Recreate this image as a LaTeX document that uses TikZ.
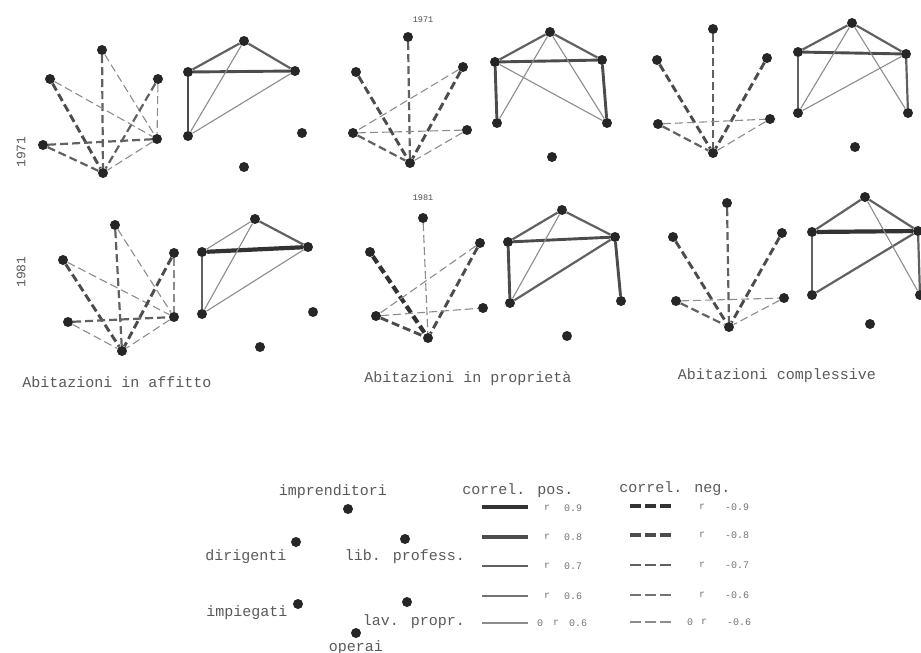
\documentclass[tikz,border=0pt]{standalone}
\usepackage{fontspec}
\newfontfamily\macchina{Liberation Mono}
\usepackage{tikz}

\tikzset{
  pallino/.style={circle,fill=black!85,inner sep=0pt,minimum size=10pt},
  pos5/.style={line width=1.1pt,black!45},
  pos6/.style={line width=1.8pt,black!55},
  pos7/.style={line width=2.2pt,black!62},
  pos8/.style={line width=2.9pt,black!70},
  pos9/.style={line width=4.2pt,black!80},
  neg5/.style={pos5,dash pattern=on 8pt off 4pt},
  neg6/.style={pos6,dash pattern=on 8pt off 4pt},
  neg7/.style={pos7,dash pattern=on 8pt off 4pt},
  neg8/.style={pos8,dash pattern=on 8pt off 4pt},
  neg9/.style={pos9,dash pattern=on 8pt off 4pt},
  testo/.style={font=\macchina\fontsize{15}{17}\selectfont,text=black!65,inner sep=0pt},
  piccolo/.style={font=\macchina\fontsize{10}{12}\selectfont,text=black!55,inner sep=0pt},
  anno/.style={font=\macchina\fontsize{8.5}{10}\selectfont,text=black!70,inner sep=0pt},
}

\newcommand{\gruppo}[7]{%
  \node[pallino] (#1im) at (#2) {};
  \node[pallino] (#1di) at (#3) {};
  \node[pallino] (#1lp) at (#4) {};
  \node[pallino] (#1ip) at (#5) {};
  \node[pallino] (#1lv) at (#6) {};
  \node[pallino] (#1op) at (#7) {};
}

\begin{document}
\begin{tikzpicture}[x=1pt,y=-1pt]
\useasboundingbox (0,0) rectangle (921,653);

\gruppo{An}{102,50}{50,79}{158,79}{43,145}{157,139}{103,173}
\gruppo{Ap}{244,41}{188,72}{295,71}{188,136}{302,133}{244,167}
\gruppo{Bn}{408,37}{356,72}{463,67}{353,133}{467,130}{410,163}
\gruppo{Bp}{550,32}{495,62}{602,60}{497,123}{607,123}{552,157}
\gruppo{Cn}{713,29}{657,60}{767,58}{658,124}{770,119}{713,153}
\gruppo{Cp}{852,23}{798,52}{906,54}{798,113}{908,113}{855,147}
\gruppo{Dn}{115,225}{63,260}{174,253}{68,322}{174,317}{122,351}
\gruppo{Dp}{255,219}{202,252}{308,247}{202,314}{313,312}{260,347}
\gruppo{En}{423,218}{370,252}{480,243}{376,316}{483,308}{428,338}
\gruppo{Ep}{562,210}{508,242}{615,237}{510,303}{621,301}{567,336}
\gruppo{Fn}{727,203}{673,237}{782,233}{676,301}{784,298}{729,327}
\gruppo{Fp}{865,197}{812,232}{918,231}{812,295}{920,295}{870,324}

\draw[neg7] (Anim) -- (Anop);
\draw[neg5] (Anim) -- (Anlv);
\draw[neg8] (Andi) -- (Anop);
\draw[neg5] (Andi) -- (Anlv);
\draw[neg7] (Anlp) -- (Anop);
\draw[neg5] (Anlp) -- (Anlv);
\draw[neg7] (Anip) -- (Anlv);
\draw[neg7] (Anip) -- (Anop);
\draw[neg5] (Anlv) -- (Anop);
\draw[pos7] (Apim) -- (Apdi);
\draw[pos7] (Apim) -- (Aplp);
\draw[pos8] (Apdi) -- (Aplp);
\draw[pos8] (Apdi) -- (Apip);
\draw[pos5] (Apim) -- (Apip);
\draw[pos5] (Aplp) -- (Apip);

\draw[neg7] (Bnim) -- (Bnop);
\draw[neg8] (Bndi) -- (Bnop);
\draw[neg8] (Bnlp) -- (Bnop);
\draw[neg5] (Bnlp) -- (Bnip);
\draw[neg5] (Bnip) -- (Bnlv);
\draw[neg7] (Bnip) -- (Bnop);
\draw[neg5] (Bnlv) -- (Bnop);
\draw[pos7] (Bpim) -- (Bpdi);
\draw[pos7] (Bpim) -- (Bplp);
\draw[pos8] (Bpdi) -- (Bplp);
\draw[pos8] (Bpdi) -- (Bpip);
\draw[pos8] (Bplp) -- (Bplv);
\draw[pos5] (Bpim) -- (Bpip);
\draw[pos5] (Bpim) -- (Bplv);
\draw[pos5] (Bpdi) -- (Bplv);

\draw[neg7] (Cnim) -- (Cnop);
\draw[neg8] (Cndi) -- (Cnop);
\draw[neg8] (Cnlp) -- (Cnop);
\draw[neg5] (Cnip) -- (Cnlv);
\draw[neg7] (Cnip) -- (Cnop);
\draw[neg5] (Cnlv) -- (Cnop);
\draw[pos7] (Cpim) -- (Cpdi);
\draw[pos7] (Cpim) -- (Cplp);
\draw[pos8] (Cpdi) -- (Cplp);
\draw[pos7] (Cpdi) -- (Cpip);
\draw[pos7] (Cplp) -- (Cplv);
\draw[pos5] (Cpim) -- (Cpip);
\draw[pos5] (Cpim) -- (Cplv);
\draw[pos5] (Cplp) -- (Cpip);

\draw[neg7] (Dnim) -- (Dnop);
\draw[neg5] (Dnim) -- (Dnlv);
\draw[neg8] (Dndi) -- (Dnop);
\draw[neg5] (Dndi) -- (Dnlv);
\draw[neg8] (Dnlp) -- (Dnop);
\draw[neg5] (Dnlp) -- (Dnlv);
\draw[neg7] (Dnip) -- (Dnlv);
\draw[neg5] (Dnip) -- (Dnop);
\draw[neg5] (Dnlv) -- (Dnop);
\draw[pos5] (Dpim) -- (Dpdi);
\draw[pos7] (Dpim) -- (Dplp);
\draw[pos9] (Dpdi) -- (Dplp);
\draw[pos7] (Dpdi) -- (Dpip);
\draw[pos5] (Dpim) -- (Dpip);
\draw[pos5] (Dplp) -- (Dpip);

\draw[neg5] (Enim) -- (Enop);
\draw[neg9] (Endi) -- (Enop);
\draw[neg8] (Enlp) -- (Enop);
\draw[neg5] (Enlp) -- (Enip);
\draw[neg5] (Enip) -- (Enlv);
\draw[neg8] (Enip) -- (Enop);
\draw[pos7] (Epim) -- (Epdi);
\draw[pos7] (Epim) -- (Eplp);
\draw[pos8] (Epdi) -- (Eplp);
\draw[pos8] (Epdi) -- (Epip);
\draw[pos8] (Eplp) -- (Eplv);
\draw[pos5] (Epim) -- (Epip);
\draw[pos7] (Eplp) -- (Epip);

\draw[neg7] (Fnim) -- (Fnop);
\draw[neg8] (Fndi) -- (Fnop);
\draw[neg8] (Fnlp) -- (Fnop);
\draw[neg5] (Fnip) -- (Fnlv);
\draw[neg7] (Fnip) -- (Fnop);
\draw[neg5] (Fnlv) -- (Fnop);
\draw[pos7] (Fpim) -- (Fpdi);
\draw[pos7] (Fpim) -- (Fplp);
\draw[pos9] (Fpdi) -- (Fplp);
\draw[pos7] (Fpdi) -- (Fpip);
\draw[pos7] (Fplp) -- (Fpip);
\draw[pos5] (Fpim) -- (Fplv);
\draw[pos7] (Fplp) -- (Fplv);

\node[anno] (a71) at (423,20) {1971};
\node[anno] (a81) at (423,198) {1981};
\node[testo,rotate=90,font=\macchina\fontsize{13}{15}\selectfont] (r71) at (21,152) {1971};
\node[testo,rotate=90,font=\macchina\fontsize{13}{15}\selectfont] (r81) at (21,272) {1981};
\node[testo] (cap1) at (117,382) {Abitazioni in affitto};
\node[testo] (cap2) at (468,379) {Abitazioni in proprietà};
\node[testo] (cap3) at (777,376) {Abitazioni complessive};

\node[pallino] (lim) at (348,509) {};
\node[pallino] (ldi) at (296,542) {};
\node[pallino] (llp) at (405,539) {};
\node[pallino] (lip) at (298,604) {};
\node[pallino] (llv) at (407,602) {};
\node[pallino] (lop) at (356,633) {};
\node[testo] (tim) at (333,492) {imprenditori};
\node[testo] (tdi) at (246,557) {dirigenti};
\node[testo] (tlp) at (405,557) {lib. profess.};
\node[testo] (tip) at (247,613) {impiegati};
\node[testo] (tlv) at (414,622) {lav. propr.};
\node[testo] (top) at (356,648) {operai};

\node[testo] (tpos) at (518,491) {correl. pos.};
\node[testo] (tneg) at (675,489) {correl. neg.};
\draw[pos9,line width=4.6pt] (482,507) -- (528,507);
\draw[pos8,line width=3.4pt] (482,537) -- (528,537);
\draw[pos7,line width=2.9pt] (482,566) -- (528,566);
\draw[pos6,line width=2.3pt] (482,596) -- (528,596);
\draw[pos5,line width=1.6pt] (482,623) -- (528,623);
\draw[neg9,line width=4.6pt,dash pattern=on 11pt off 4pt] (630,506) -- (672,506);
\draw[neg8,line width=3.4pt,dash pattern=on 11pt off 4pt] (630,535) -- (672,535);
\draw[neg7,line width=2.9pt,dash pattern=on 11pt off 4pt] (630,565) -- (672,565);
\draw[neg6,line width=2.3pt,dash pattern=on 11pt off 4pt] (630,595) -- (672,595);
\draw[neg5,line width=1.6pt,dash pattern=on 11pt off 4pt] (630,622) -- (672,622);
\node[piccolo] (r1) at (547,508) {r};
\node[piccolo] (r2) at (547,537) {r};
\node[piccolo] (r3) at (547,566) {r};
\node[piccolo] (r4) at (547,596) {r};
\node[piccolo] (r5) at (556,623) {r};
\node[piccolo] (z5) at (540,623) {0};
\node[piccolo] (v1) at (573,508) {0.9};
\node[piccolo] (v2) at (573,537) {0.8};
\node[piccolo] (v3) at (573,566) {0.7};
\node[piccolo] (v4) at (573,596) {0.6};
\node[piccolo] (v5) at (578,623) {0.6};
\node[piccolo] (s1) at (702,507) {r};
\node[piccolo] (s2) at (702,535) {r};
\node[piccolo] (s3) at (702,565) {r};
\node[piccolo] (s4) at (702,595) {r};
\node[piccolo] (s5) at (704,622) {r};
\node[piccolo] (y5) at (690,622) {0};
\node[piccolo] (w1) at (737,507) {-0.9};
\node[piccolo] (w2) at (737,535) {-0.8};
\node[piccolo] (w3) at (737,565) {-0.7};
\node[piccolo] (w4) at (737,595) {-0.6};
\node[piccolo] (w5) at (739,622) {-0.6};
\end{tikzpicture}
\end{document}
